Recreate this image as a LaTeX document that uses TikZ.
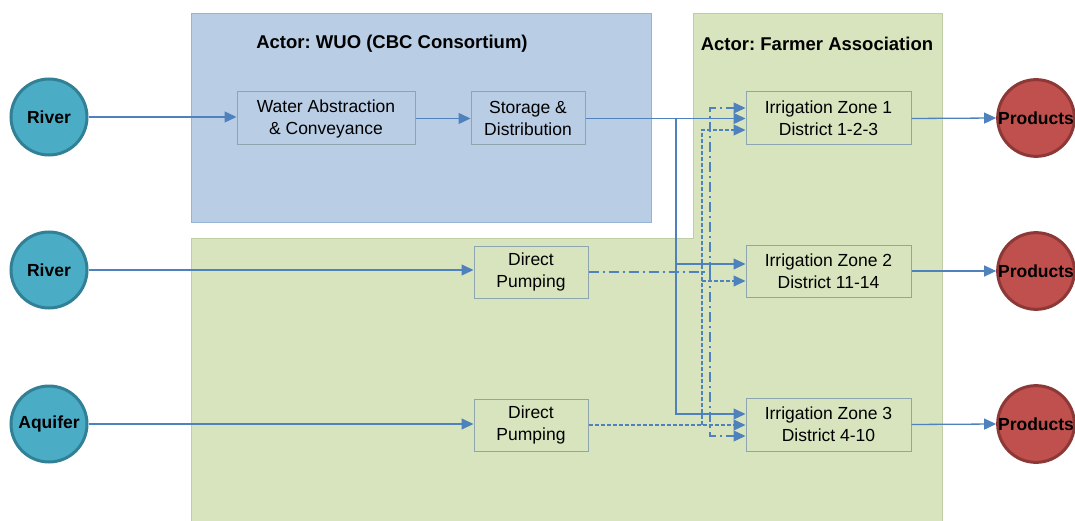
\documentclass[tikz,border=0pt]{standalone}
\usepackage{fontspec}
\setmainfont{Liberation Sans}
\usetikzlibrary{arrows.meta}
\frenchspacing
\definecolor{flowblue}{RGB}{79,129,189}
\definecolor{wuofill}{RGB}{185,205,229}
\definecolor{wuoedge}{RGB}{149,179,215}
\definecolor{farmfill}{RGB}{215,228,189}
\definecolor{farmedge}{RGB}{190,205,165}
\definecolor{boxedge}{RGB}{140,165,175}
\definecolor{srcfill}{RGB}{75,172,198}
\definecolor{srcedge}{RGB}{49,128,150}
\definecolor{prodfill}{RGB}{192,80,77}
\definecolor{prodedge}{RGB}{140,56,54}
\tikzset{
  stepbox/.style={draw=boxedge, line width=1pt, align=center, inner sep=0pt,
    font=\fontsize{17.5}{22}\selectfont},
  source/.style={circle, draw=srcedge, fill=srcfill, line width=3pt,
    minimum size=76pt, inner sep=0pt, font=\bfseries\fontsize{17.5}{20}\selectfont},
  product/.style={circle, draw=prodedge, fill=prodfill, line width=3pt,
    minimum size=76pt, inner sep=0pt, font=\bfseries\fontsize{17.5}{20}\selectfont},
  actor/.style={font=\bfseries\fontsize{18.5}{22}\selectfont},
  tip/.style={-{Triangle[length=12pt,width=11pt]}},
  flow/.style={draw=flowblue, line width=1.3pt, tip},
  pumped/.style={draw=flowblue, line width=1.3pt, dash pattern=on 10pt off 4pt on 2pt off 4pt},
  pumpedflow/.style={pumped, tip},
  ground/.style={draw=flowblue, line width=1.3pt, dash pattern=on 4pt off 2pt},
  groundflow/.style={ground, tip},
}
\begin{document}
\begin{tikzpicture}[x=1pt,y=-1pt]
\useasboundingbox (0,0) rectangle (1075,521);

% actor areas
\draw[fill=farmfill, draw=farmedge, line width=1pt]
  (693,14) -- (942,14) -- (942,524) -- (191,524) -- (191,239) -- (693,239) -- cycle;
\draw[fill=wuofill, draw=wuoedge, line width=1pt] (191,14) rectangle (651,223);
\node[actor] (wuo) at (392,44) {Actor: WUO (CBC Consortium)};
\node[actor] (fa) at (817,44) {Actor: Farmer Association};

% water sources
\node[source] (r1) at (49,117) {River};
\node[source] (r2) at (49,270) {River};
\node[source] (aq) at (49,424) {Aquifer};

% process steps
\node[stepbox, minimum width=178pt, minimum height=53pt] (wa) at (326,118.5) {Water Abstraction\\\& Conveyance};
\node[stepbox, minimum width=114pt, minimum height=53pt] (st) at (528,118.5) {Storage \&\\Distribution};
\node[stepbox, minimum width=114pt, minimum height=52pt] (dp1) at (531,272) {Direct\\Pumping};
\node[stepbox, minimum width=114pt, minimum height=52pt] (dp2) at (531,425) {Direct\\Pumping};
\node[stepbox, minimum width=165pt, minimum height=53pt] (z1) at (828.5,118.5) {Irrigation Zone 1\\District 1-2-3};
\node[stepbox, minimum width=165pt, minimum height=52pt] (z2) at (828.5,271) {Irrigation Zone 2\\District 11-14};
\node[stepbox, minimum width=165pt, minimum height=53pt] (z3) at (828.5,424.5) {Irrigation Zone 3\\District 4-10};

% outputs
\node[product] (p1) at (1036,118) {Products};
\node[product] (p2) at (1036,271) {Products};
\node[product] (p3) at (1036,424) {Products};

% distribution columns
\coordinate (solidx) at (676,0);
\coordinate (dashx) at (702,0);
\coordinate (dotx) at (710,0);

% intake flows
\draw[flow] (r1.east) -- (r1.east -| wa.west);
\draw[flow] (wa.east) -- (st.west);
\draw[flow] (r2.east) -- (r2.east -| dp1.west);
\draw[flow] (aq.east) -- (aq.east -| dp2.west);

% canal distribution
\draw[flow] (st.east) -- (z1.west);
\draw[flow] (st.east -| solidx) |- ([yshift=7pt]z2.west);
\draw[flow] (st.east -| solidx) |- ([yshift=10.5pt]z3.west);

% river pumping
\draw[pumped] (dp1.east) -- (dp1.east -| dotx);
\draw[pumpedflow] (dp1.east -| dotx) |- ([yshift=10.5pt]z1.west);
\draw[pumpedflow] (dp1.east -| dotx) |- ([yshift=-11.5pt]z3.west);

% groundwater pumping
\draw[groundflow] (dp2.east) -- (dp2.east -| z3.west);
\draw[groundflow] (dp2.east -| dashx) |- ([yshift=-10pt]z2.west);
\draw[groundflow] (dp2.east -| dashx) |- ([yshift=-11.5pt]z1.west);

% products
\draw[flow] (z1.east) -- (p1.west);
\draw[flow] (z2.east) -- (p2.west);
\draw[flow] (z3.east) -- (p3.west);
\end{tikzpicture}
\end{document}
